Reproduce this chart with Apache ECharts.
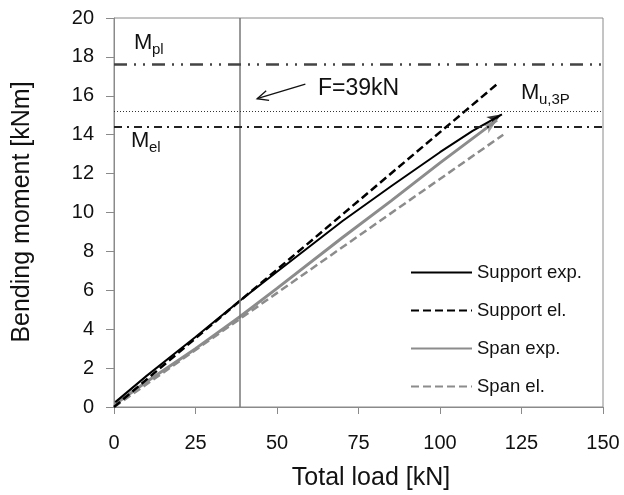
<!DOCTYPE html>
<html>
<head>
<meta charset="utf-8">
<script src="https://cdn.jsdelivr.net/npm/echarts@6/dist/echarts.min.js"></script>
<style>
  html, body { margin: 0; padding: 0; background: #fff; }
  #chart { width: 624px; height: 495px; }
</style>
</head>
<body>
<div id="chart"></div>
<script>
// total load [kN] vs bending moment [kNm]
const supportExp = [[0.4, 0.25], [10, 1.6], [25, 3.6], [38.5, 5.45], [50, 6.95], [70, 9.55], [85, 11.35], [100, 13.1], [110, 14.2], [119, 15.05]];
const supportEl = [[0, 0], [118.2, 16.7]];
const spanExp = [[0.4, 0.15], [10, 1.3], [25, 3.0], [38.5, 4.63], [50, 6.1], [70, 8.7], [85, 10.6], [100, 12.55], [117.5, 14.75]];
const spanEl = [[0, 0], [119.4, 14.0]];

const seriesNames = ['Support exp.', 'Support el.', 'Span exp.', 'Span el.'];

// reference levels
const loadF = 38.5;
const momentPl = 17.6;
const momentU3P = 15.2;
const momentEl = 14.4;

const GRAY = '#8c8c8c';
const FONT = '"Liberation Sans", Arial, sans-serif';

const chart = echarts.init(document.getElementById('chart'));

const option = {
  animation: false,
  textStyle: { fontFamily: FONT },
  grid: {
    left: 114, right: 21, top: 18, bottom: 88,
    show: true, borderColor: '#8a8a8a', borderWidth: 1
  },
  legend: {
    data: seriesNames,
    orient: 'vertical',
    left: 410, top: 263,
    itemWidth: 61, itemHeight: 14, itemGap: 19,
    padding: 0,
    itemStyle: { opacity: 0, color: 'rgba(0,0,0,0)', borderWidth: 0 },
    textStyle: { fontSize: 18.5, color: '#111', fontFamily: FONT }
  },
  xAxis: {
    type: 'value', min: 0, max: 150, interval: 25,
    axisLine: { show: true, lineStyle: { color: '#8a8a8a' } },
    axisTick: { show: true, length: 7, lineStyle: { color: '#8a8a8a' } },
    axisLabel: { fontSize: 20, color: '#111', margin: 26 },
    splitLine: { show: false }
  },
  yAxis: {
    type: 'value', min: 0, max: 20, interval: 2,
    axisLine: { show: true, lineStyle: { color: '#8a8a8a' } },
    axisTick: { show: true, length: 8, lineStyle: { color: '#8a8a8a' } },
    axisLabel: { fontSize: 20, color: '#111', margin: 20 },
    splitLine: { show: false }
  },
  series: [
    {
      name: 'Span el.', type: 'line', data: spanEl, symbol: 'none',
      lineStyle: { color: GRAY, width: 2.5, type: [8, 4] },
      itemStyle: { color: GRAY },
      markLine: {
        silent: true, symbol: 'none', label: { show: false },
        data: [
          { xAxis: loadF, lineStyle: { color: '#777', width: 1.5, type: 'solid' } },
          { yAxis: momentPl, lineStyle: { color: '#444', width: 2.5, type: [13, 7, 2, 7, 2, 7] } },
          { yAxis: momentU3P, lineStyle: { color: '#333', width: 1, type: [1, 2] } },
          { yAxis: momentEl, lineStyle: { color: '#222', width: 2, type: [8, 5, 2, 5] } }
        ]
      }
    },
    {
      name: 'Span exp.', type: 'line', data: spanExp, symbol: 'none',
      lineStyle: { color: GRAY, width: 3 },
      itemStyle: { color: GRAY }
    },
    {
      name: 'Support el.', type: 'line', data: supportEl, symbol: 'none',
      lineStyle: { color: '#000', width: 2.5, type: [8, 4] },
      itemStyle: { color: '#000' }
    },
    {
      name: 'Support exp.', type: 'line', data: supportExp, symbol: 'none',
      lineStyle: { color: '#000', width: 2 },
      itemStyle: { color: '#000' }
    },
    {
      name: 'spanArrow', type: 'scatter', data: [spanExp[spanExp.length - 1]],
      symbol: 'arrow', symbolSize: [8, 15], itemStyle: { color: GRAY }, silent: true
    },
    {
      name: 'supportArrow', type: 'scatter', data: [supportExp[supportExp.length - 1]],
      symbol: 'arrow', symbolSize: [8, 15], itemStyle: { color: '#000' }, silent: true
    }
  ]
};

chart.setOption(option);

function endAngle(points) {
  const a = chart.convertToPixel({ gridIndex: 0 }, points[points.length - 2]);
  const b = chart.convertToPixel({ gridIndex: 0 }, points[points.length - 1]);
  const ang = Math.atan2(a[1] - b[1], b[0] - a[0]) * 180 / Math.PI;
  return ang - 90;
}

// annotation arrow for F
const p0 = chart.convertToPixel({ gridIndex: 0 }, [58.7, 16.6]);
const p1 = chart.convertToPixel({ gridIndex: 0 }, [43.9, 15.85]);
const dx = p0[0] - p1[0], dy = p0[1] - p1[1];
const len = Math.sqrt(dx * dx + dy * dy);
const ux = dx / len, uy = dy / len;
const headLen = 11, headW = 5;
const h1 = [p1[0] + ux * headLen - uy * headW, p1[1] + uy * headLen + ux * headW];
const h2 = [p1[0] + ux * headLen + uy * headW, p1[1] + uy * headLen - ux * headW];

const txt = (x, y, text, size) => ({
  type: 'text', left: x, top: y, silent: true,
  style: { text: text, fontSize: size, fill: '#111', fontFamily: FONT }
});

chart.setOption({
  series: [
    { name: 'spanArrow', symbolRotate: endAngle(spanExp) },
    { name: 'supportArrow', symbolRotate: endAngle(supportExp) }
  ],
  graphic: [
    { type: 'polyline', silent: true, shape: { points: [p0, p1] }, style: { stroke: '#111', lineWidth: 1.3 } },
    { type: 'polyline', silent: true, shape: { points: [h1, p1, h2] }, style: { stroke: '#111', lineWidth: 1.3, fill: null } },
    txt(318, 77, 'F=39kN', 23),
    txt(134, 32, 'M', 22), txt(152, 42, 'pl', 15),
    txt(131, 130, 'M', 22), txt(149, 140, 'el', 15),
    txt(521, 82, 'M', 22), txt(539, 92, 'u,3P', 15),
    {
      type: 'text', silent: true, x: 371, y: 478,
      style: { text: 'Total load [kN]', fontSize: 25, fill: '#111', fontFamily: FONT, align: 'center', verticalAlign: 'middle' }
    },
    {
      type: 'text', silent: true, x: 22, y: 212, rotation: Math.PI / 2,
      style: { text: 'Bending moment [kNm]', fontSize: 25, fill: '#111', fontFamily: FONT, align: 'center', verticalAlign: 'middle' }
    }
  ]
});
</script>
</body>
</html>
